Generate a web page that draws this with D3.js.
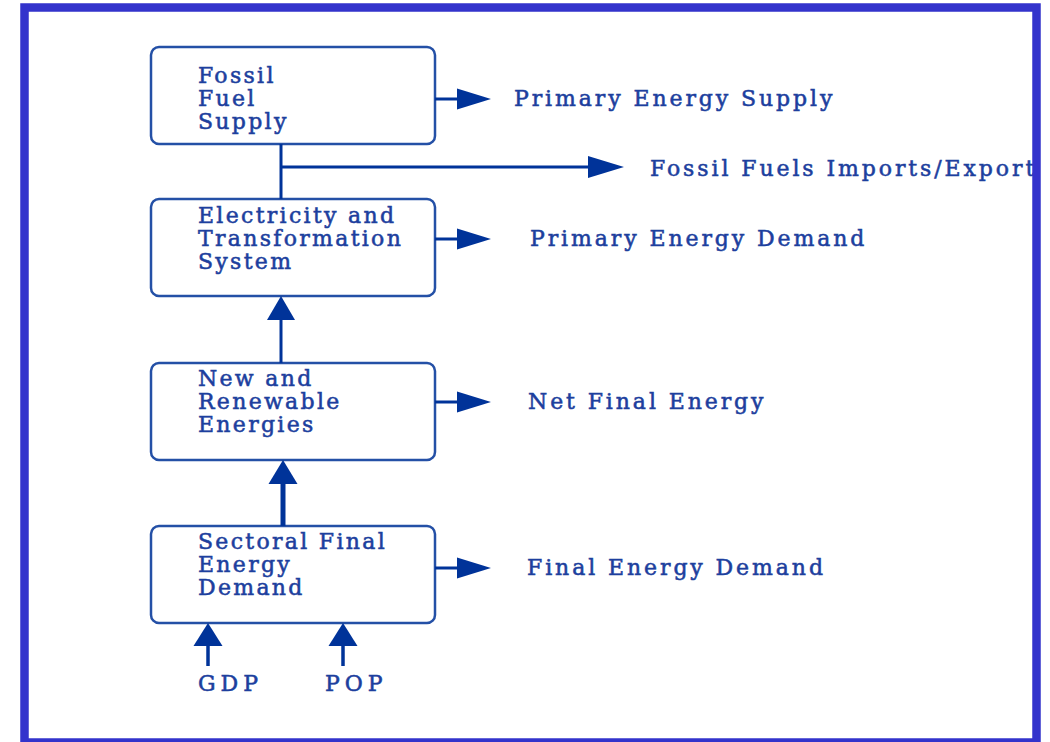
<!DOCTYPE html>
<html>
<head>
<meta charset="utf-8">
<script src="https://cdn.jsdelivr.net/npm/d3@7"></script>
<style>
  html, body { margin: 0; padding: 0; background: #fff; }
  svg { display: block; }
  .box-label, .out-label, .in-label {
    font-family: 'DejaVu Serif', serif;
    fill: #1d3f9e;
    stroke: #1d3f9e;
    stroke-width: 0.55px;
  }
</style>
</head>
<body>
<svg id="chart" width="1050" height="742"></svg>
<script>
// model stages, top to bottom
const stages = [
  ['Fossil', 'Fuel', 'Supply'],
  ['Electricity and', 'Transformation', 'System'],
  ['New and', 'Renewable', 'Energies'],
  ['Sectoral Final', 'Energy', 'Demand'],
];
// output of each stage
const outputs = ['Primary Energy Supply', 'Primary Energy Demand', 'Net Final Energy', 'Final Energy Demand'];
const tradeLabel = 'Fossil Fuels Imports/Exports';
// drivers feeding the demand module
const drivers = ['GDP', 'POP'];

const W = 1050, H = 742;
const svg = d3.select('#chart');
const arrowColor = '#003399';
const boxColor = '#2450a6';

// layout helpers
const boxTop = d3.scaleOrdinal().domain(d3.range(4)).range([47, 199, 363, 526]);
const boxH = 97;
const boxX = d3.scaleLinear().domain([0, 1]).range([151, 435]);
const outX = d3.scaleOrdinal().domain(d3.range(4)).range([514, 530, 528, 527]);
const outY = d3.scaleOrdinal().domain(d3.range(4)).range([99, 239, 402, 568]);
const lineY = d3.scaleLinear().domain([0, 1]).range([0, 23]);
const firstBase = d3.scaleOrdinal().domain(d3.range(4)).range([36, 24, 23, 23]);
const driverX = d3.scalePoint().domain(drivers).range([208, 343]);
const driverLabelX = d3.scalePoint().domain(drivers).range([198, 325]);

function arrow(g, x1, y1, x2, y2, lw, headLen, headW) {
  const len = Math.hypot(x2 - x1, y2 - y1);
  const ux = (x2 - x1) / len, uy = (y2 - y1) / len;
  const bx = x2 - ux * headLen, by = y2 - uy * headLen;
  g.append('line')
    .attr('x1', x1).attr('y1', y1).attr('x2', bx + ux * 2).attr('y2', by + uy * 2)
    .attr('stroke', arrowColor).attr('stroke-width', lw);
  const px = -uy, py = ux;
  const pts = [[x2, y2], [bx + px * headW / 2, by + py * headW / 2], [bx - px * headW / 2, by - py * headW / 2]];
  g.append('path').attr('d', d3.line()(pts) + 'Z').attr('fill', arrowColor);
}

const g = svg.append('g');

// boxes
const box = g.selectAll('g.stage').data(stages).join('g').attr('class', 'stage');
box.append('rect')
  .attr('x', boxX(0)).attr('y', (d, i) => boxTop(i))
  .attr('width', boxX(1) - boxX(0)).attr('height', boxH)
  .attr('rx', 8)
  .attr('fill', 'none').attr('stroke', boxColor).attr('stroke-width', 2.5);
box.each(function (lines, i) {
  d3.select(this).selectAll('text').data(lines).join('text')
    .attr('class', 'box-label')
    .attr('x', 198)
    .attr('y', (d, j) => boxTop(i) + firstBase(i) + lineY(j))
    .attr('font-size', 22)
    .attr('letter-spacing', 2.3)
    .text(d => d);
});

// outputs to the right
outputs.forEach((label, i) => {
  arrow(g, boxX(1), outY(i), 491, outY(i), 3, 34, 21);
  g.append('text').attr('class', 'out-label')
    .attr('x', outX(i)).attr('y', outY(i) + 7)
    .attr('font-size', 22).attr('letter-spacing', 2.9)
    .text(label);
});

// fossil supply -> transformation connector and trade branch
const cx = 281;
g.append('line').attr('x1', cx).attr('y1', boxTop(0) + boxH).attr('x2', cx).attr('y2', boxTop(1))
  .attr('stroke', arrowColor).attr('stroke-width', 3);
arrow(g, cx, 167, 624, 167, 3, 36, 22);
const clip = svg.append('clipPath').attr('id', 'inner');
clip.append('rect').attr('x', 0).attr('y', 0).attr('width', 1037).attr('height', H);
g.append('text').attr('class', 'out-label')
  .attr('clip-path', 'url(#inner)')
  .attr('x', 650).attr('y', 176)
  .attr('font-size', 22).attr('letter-spacing', 2.9)
  .text(tradeLabel);

// upward flows between stages
arrow(g, cx, boxTop(2), cx, boxTop(1) + boxH, 3, 24, 28);
arrow(g, 283, boxTop(3), 283, boxTop(2) + boxH, 5, 24, 29);

// drivers
drivers.forEach(d => {
  arrow(g, driverX(d), 666, driverX(d), boxTop(3) + boxH, 3.5, 23, 29);
  g.append('text').attr('class', 'in-label')
    .attr('x', driverLabelX(d)).attr('y', 691)
    .attr('font-size', 22).attr('letter-spacing', 5)
    .text(d);
});

// outer frame
svg.append('rect')
  .attr('x', 24.5).attr('y', 7.5)
  .attr('width', 1012).attr('height', 735)
  .attr('fill', 'none').attr('stroke', '#3333cc').attr('stroke-width', 8.5);
</script>
</body>
</html>
